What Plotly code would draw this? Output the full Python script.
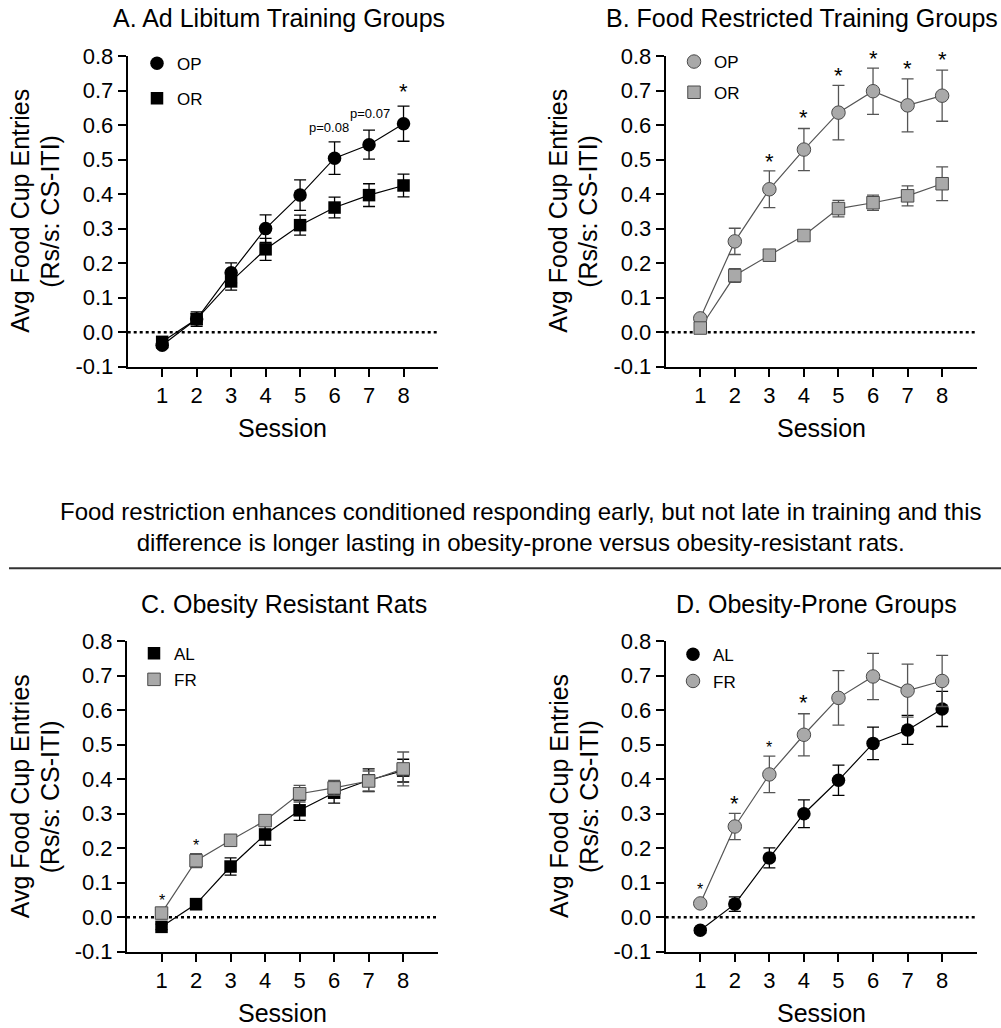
import plotly.graph_objects as go

sessions = [1, 2, 3, 4, 5, 6, 7, 8]

# Ad libitum trained rats (mean, SEM)
al_op_mean = [-0.038, 0.038, 0.172, 0.300, 0.397, 0.504, 0.543, 0.604]
al_op_sem = [0.008, 0.021, 0.029, 0.040, 0.044, 0.047, 0.042, 0.051]
al_or_mean = [-0.028, 0.038, 0.147, 0.240, 0.310, 0.361, 0.397, 0.425]
al_or_sem = [0.008, 0.016, 0.025, 0.032, 0.029, 0.030, 0.033, 0.033]

# Food restricted rats (mean, SEM)
fr_op_mean = [0.040, 0.263, 0.414, 0.529, 0.636, 0.698, 0.657, 0.685]
fr_op_sem = [0.008, 0.038, 0.053, 0.061, 0.079, 0.067, 0.077, 0.074]
fr_or_mean = [0.012, 0.164, 0.223, 0.280, 0.358, 0.375, 0.395, 0.430]
fr_or_sem = [0.010, 0.020, 0.012, 0.010, 0.024, 0.022, 0.029, 0.049]

y_ticks = [-0.1, 0.0, 0.1, 0.2, 0.3, 0.4, 0.5, 0.6, 0.7, 0.8]
y_tick_text = ["-0.1", "0.0", "0.1", "0.2", "0.3", "0.4", "0.5", "0.6", "0.7", "0.8"]

panel_titles = ["A. Ad Libitum Training Groups", "B. Food Restricted Training Groups",
                "C. Obesity Resistant Rats", "D. Obesity-Prone Groups"]
y_title_lines = ["Avg Food Cup Entries", "(Rs/s: CS-ITI)"]
x_title = "Session"
summary_lines = ["Food restriction enhances conditioned responding early, but not late in training and this",
                 "difference is longer lasting in obesity-prone versus obesity-resistant rats."]

# significance stars: session, height of star, large/small
sig_a_x, sig_a_y, sig_a_big = [8], [0.711], [True]
sig_b_x, sig_b_y, sig_b_big = [3, 4, 5, 6, 7, 8], [0.508, 0.636, 0.757, 0.808, 0.777, 0.803], [True] * 6
sig_c_x, sig_c_y, sig_c_big = [1, 2], [0.060, 0.218], [False, False]
sig_d_x, sig_d_y, sig_d_big = [1, 2, 3, 4], [0.091, 0.344, 0.502, 0.638], [False, True, False, True]
trend_text = ["p=0.08", "p=0.07"]
trend_x = [5.85, 7.03]
trend_y = [0.592, 0.634]

FONT = "Liberation Sans, Arial, Helvetica, sans-serif"
BLACK = "#000000"
GREY_FILL = "#a9a9a9"
GREY_EDGE = "#4a4a4a"
GREY_LINE = "#555555"

W, H = 1001, 1028
Y_MIN, Y_MAX = -0.1, 0.8


def px_x(p):
    return p / W


def px_y(p):
    return 1 - p / H


# plot areas in pixels: (left, right, top, bottom)
areas = {
    1: (127.7, 438.0, 56.0, 366.7),
    2: (665.7, 976.7, 56.0, 366.7),
    3: (127.0, 437.7, 641.3, 951.7),
    4: (665.7, 976.7, 641.3, 951.7),
}

fig = go.Figure()


def add_panel(idx, legend, series):
    ax = "" if idx == 1 else str(idx)
    # connecting lines underneath all markers
    for name, mean, sem, symbol, grey in series:
        fig.add_trace(go.Scatter(
            x=sessions, y=mean, mode="lines", showlegend=False, hoverinfo="skip",
            xaxis="x" + ax, yaxis="y" + ax,
            line=dict(color=GREY_LINE if grey else BLACK, width=1.2),
        ))
    for name, mean, sem, symbol, grey in series:
        fill = GREY_FILL if grey else BLACK
        edge = GREY_EDGE if grey else BLACK
        fig.add_trace(go.Scatter(
            x=sessions, y=mean, name=name, mode="markers",
            xaxis="x" + ax, yaxis="y" + ax, legend=legend, legendgroup=legend + name,
            marker=dict(symbol=symbol, size=13.5 if symbol == "circle" else 12.5, color=fill,
                        line=dict(color=edge, width=1 if grey else 0)),
            error_y=dict(type="data", array=sem, visible=True,
                         color=GREY_LINE if grey else BLACK, thickness=1.3, width=6),
            cliponaxis=False,
        ))


add_panel(1, "legend", [("OP", al_op_mean, al_op_sem, "circle", False),
                        ("OR", al_or_mean, al_or_sem, "square", False)])
add_panel(2, "legend2", [("OP", fr_op_mean, fr_op_sem, "circle", True),
                         ("OR", fr_or_mean, fr_or_sem, "square", True)])
add_panel(3, "legend3", [("AL", al_or_mean, al_or_sem, "square", False),
                         ("FR", fr_or_mean, fr_or_sem, "square", True)])
add_panel(4, "legend4", [("AL", al_op_mean, al_op_sem, "circle", False),
                         ("FR", fr_op_mean, fr_op_sem, "circle", True)])

layout = dict(
    template="none",
    width=W, height=H, margin=dict(l=0, r=0, t=0, b=0, pad=0, autoexpand=False),
    paper_bgcolor="white", plot_bgcolor="white",
    font=dict(family=FONT, color=BLACK, size=22),
    showlegend=True,
)

legend_gaps = {1: 10, 2: 5.6, 3: 1, 4: 1.6}
legend_pos = {1: (137, 45.7), 2: (674, 44), 3: (134, 635.7), 4: (673, 636.7)}

shapes = []
annotations = []
for idx, (l, r, t, b) in areas.items():
    ax = "" if idx == 1 else str(idx)
    common = dict(ticks="outside", ticklen=8, tickwidth=2, tickcolor=BLACK,
                  showline=True, linewidth=2, linecolor=BLACK, showgrid=False,
                  zeroline=False, tickfont=dict(size=22), fixedrange=True, automargin=False)
    layout["xaxis" + ax] = dict(domain=[px_x(l), px_x(r)], anchor="y" + ax, range=[0, 9],
                                tickvals=sessions, **common)
    layout["yaxis" + ax] = dict(domain=[px_y(b), px_y(t)], anchor="x" + ax,
                                range=[Y_MIN, Y_MAX], tickvals=y_ticks, ticktext=y_tick_text,
                                **common)
    lg = "legend" if idx == 1 else "legend" + str(idx)
    lx, ly = legend_pos[idx]
    layout[lg] = dict(
        x=px_x(lx), y=px_y(ly), xanchor="left", yanchor="top", traceorder="grouped",
        tracegroupgap=legend_gaps[idx], font=dict(size=17), bgcolor="rgba(0,0,0,0)",
        borderwidth=0,
    )
    # dotted zero reference line
    shapes.append(dict(type="line", xref="x" + ax, yref="y" + ax, x0=0, x1=9, y0=0, y1=0,
                       line=dict(color=BLACK, width=2.5, dash="dot"), layer="below"))
    # axis titles
    cy = (t + b) / 2
    annotations.append(dict(text=y_title_lines[0], xref="paper", yref="paper",
                            x=px_x(l - 107.2), y=px_y(cy), xanchor="center", yanchor="middle",
                            textangle=-90, showarrow=False, font=dict(size=25)))
    annotations.append(dict(text=y_title_lines[1], xref="paper", yref="paper",
                            x=px_x(l - 77.2), y=px_y(cy), xanchor="center", yanchor="middle",
                            textangle=-90, showarrow=False, font=dict(size=25)))
    annotations.append(dict(text=x_title, xref="paper", yref="paper",
                            x=px_x((l + r) / 2), y=px_y(b + 61.5), xanchor="center",
                            yanchor="middle", showarrow=False, font=dict(size=25)))

# panel titles
title_pos = [(279, 17.7), (801.7, 17.7), (284, 604), (816, 604)]
for txt, (tx, ty) in zip(panel_titles, title_pos):
    annotations.append(dict(text=txt, xref="paper", yref="paper", x=px_x(tx), y=px_y(ty),
                            xanchor="center", yanchor="middle", showarrow=False,
                            font=dict(size=25)))

# summary text (one two-line block) and divider
annotations.append(dict(text="<br>".join(summary_lines), xref="paper", yref="paper",
                        x=px_x(520), y=px_y(527), xanchor="center", yanchor="middle",
                        align="center", showarrow=False, font=dict(size=24)))
shapes.append(dict(type="line", xref="paper", yref="paper", x0=px_x(9), x1=1,
                   y0=px_y(568.3), y1=px_y(568.3), line=dict(color="#333333", width=2)))

# significance stars (stars above the axis top are anchored at the top and shifted)
for idx, xs, ys, bigs in [(1, sig_a_x, sig_a_y, sig_a_big), (2, sig_b_x, sig_b_y, sig_b_big),
                          (3, sig_c_x, sig_c_y, sig_c_big), (4, sig_d_x, sig_d_y, sig_d_big)]:
    ax = "" if idx == 1 else str(idx)
    l, r, t, b = areas[idx]
    px_per_unit = (b - t) / (Y_MAX - Y_MIN)
    for sx, sy, big in zip(xs, ys, bigs):
        size = 22 if big else 16
        ya = min(sy, Y_MAX - 0.005)
        annotations.append(dict(text="*", xref="x" + ax, yref="y" + ax, x=sx, y=ya,
                                xanchor="center", yanchor="middle",
                                yshift=-0.22 * size + (sy - ya) * px_per_unit,
                                showarrow=False, font=dict(size=size)))

for txt, tx, ty in zip(trend_text, trend_x, trend_y):
    annotations.append(dict(text=txt, xref="x", yref="y", x=tx, y=ty, xanchor="center",
                            yanchor="middle", showarrow=False, font=dict(size=13)))

layout["shapes"] = shapes
layout["annotations"] = annotations
fig.update_layout(**layout)

fig.write_html("out.html")
